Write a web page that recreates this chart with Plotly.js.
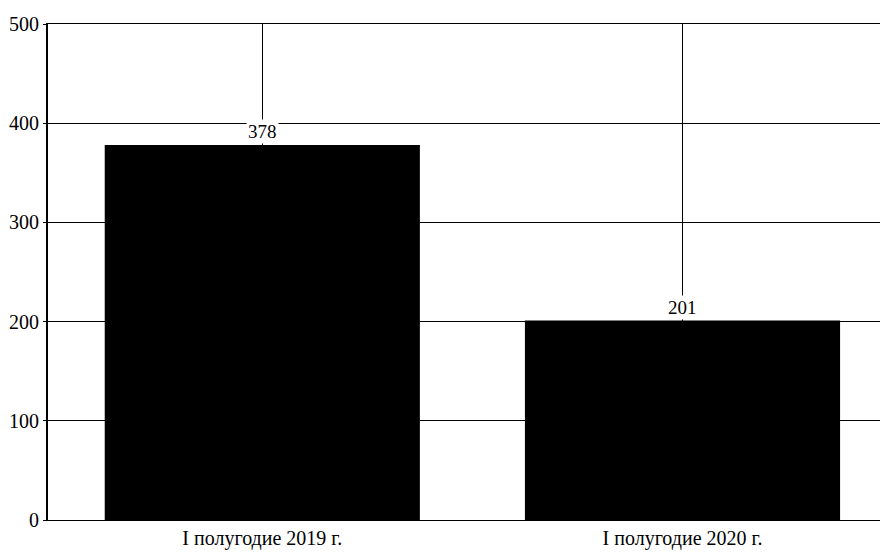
<!DOCTYPE html>
<html>
<head>
<meta charset="utf-8">
<script src="https://cdn.plot.ly/plotly-3.0.1.min.js"></script>
<style>html,body{margin:0;padding:0;background:#fff}#chart{width:880px;height:554px}</style>
</head>
<body>
<div id="chart"></div>
<script>
const categories = ["I полугодие 2019 г.", "I полугодие 2020 г."];
const values = [378, 201];
const yTicks = [0, 100, 200, 300, 400, 500];

const serif = "'Liberation Serif', 'DejaVu Serif', 'Times New Roman', serif";

const trace = {
  type: "bar",
  x: categories,
  y: values,
  width: 0.75,
  marker: {color: "#000000"},
  hoverinfo: "none"
};

const annotations = categories.map((c, i) => ({
  x: c,
  y: values[i],
  xref: "x",
  yref: "y",
  text: String(values[i]),
  showarrow: false,
  yanchor: "bottom",
  xanchor: "center",
  yshift: 1,
  bgcolor: "#ffffff",
  borderpad: 1,
  font: {family: serif, size: 19, color: "#000"}
}));

const layout = {
  width: 880,
  height: 554,
  margin: {l: 48, r: 0, t: 24, b: 34},
  paper_bgcolor: "#fff",
  plot_bgcolor: "#fff",
  showlegend: false,
  font: {family: serif, color: "#000"},
  annotations: annotations,
  xaxis: {
    type: "category",
    range: [-0.51, 1.47],
    showgrid: true,
    gridcolor: "#000",
    gridwidth: 1,
    showline: true,
    mirror: true,
    linecolor: "#000",
    linewidth: 1,
    ticks: "",
    tickfont: {family: serif, size: 20, color: "#000"},
    fixedrange: true
  },
  yaxis: {
    range: [0, 500],
    tickvals: yTicks,
    ticktext: yTicks.map(String),
    showgrid: true,
    gridcolor: "#000",
    gridwidth: 1,
    zeroline: false,
    showline: true,
    linecolor: "#000",
    linewidth: 2,
    ticks: "outside",
    ticklen: 3,
    tickcolor: "#000",
    tickfont: {family: serif, size: 20, color: "#000"},
    fixedrange: true
  }
};

Plotly.newPlot("chart", [trace], layout, {displayModeBar: false, staticPlot: true});
</script>
</body>
</html>
